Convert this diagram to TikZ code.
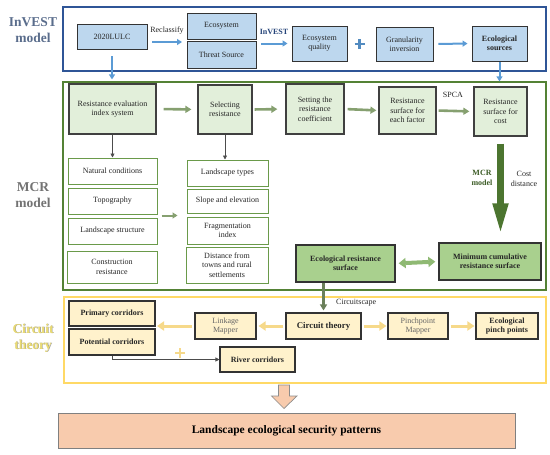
\documentclass[tikz,border=0pt]{standalone}
\usepackage{fontspec}
\setmainfont{Liberation Serif}
\usetikzlibrary{arrows.meta}
\definecolor{invblue}{HTML}{2F5597}
\definecolor{bfill}{HTML}{BDD7EE}
\definecolor{barr}{HTML}{5B9BD5}
\definecolor{gframe}{HTML}{548235}
\definecolor{gfill}{HTML}{E2EFDA}
\definecolor{gdark}{HTML}{A9D08E}
\definecolor{gline}{HTML}{6A9A4A}
\definecolor{garr}{HTML}{86A070}
\definecolor{yframe}{HTML}{FFD966}
\definecolor{yfill}{HTML}{FFF2CC}
\definecolor{yarr}{HTML}{F6D98A}
\definecolor{ofill}{HTML}{F8CBAD}
\definecolor{txt}{HTML}{262626}
\definecolor{sideblue}{HTML}{5A6D8C}
\definecolor{sideyel}{HTML}{EADB72}
\newcommand\fs{\fontsize{8}{9.4}\selectfont}
\begin{document}
\begin{tikzpicture}[x=1pt,y=-1pt,
  box/.style={draw=black!80, line width=0.9pt, align=center, inner sep=1pt, font=\fs, text=txt},
  bluebox/.style={box, fill=bfill},
  gbox/.style={box, fill=gfill, line width=1.2pt, draw=black!75},
  wbox/.style={box, fill=white, draw=gline, line width=1pt},
  dgbox/.style={box, fill=gdark, line width=1.3pt, draw=black!80, font=\fs\bfseries},
  ybox/.style={box, fill=yfill, line width=1.1pt, draw=black!80},
  barrow/.style={draw=barr, line width=2pt, -{Triangle[length=5pt,width=6pt]}},
  garrow/.style={draw=garr, line width=2.6pt, -{Triangle[length=6pt,width=7pt]}},
  thinarrow/.style={draw=black!70, line width=0.7pt, -{Triangle[length=4pt,width=4pt]}},
  yarrow/.style={draw=yarr, line width=3pt, -{Triangle[length=7pt,width=9pt]}},
  sidelabel/.style={align=center, font=\fontsize{13.5}{16}\selectfont\bfseries},
  lbl/.style={font=\fs, text=txt, inner sep=1pt}
]
\useasboundingbox (0,0) rectangle (550,455);

% frames
\draw[invblue, line width=2pt] (63,7) rectangle (546,71);
\draw[gframe, line width=2.5pt] (63,82) rectangle (546,290);
\draw[yframe, line width=2pt] (64,297) rectangle (546,383);

% side labels
\node[sidelabel, text=sideblue] (lab1) at (33,30) {InVEST\\model};
\node[sidelabel, text=black!55] (lab2) at (33,195) {MCR\\model};
\node[sidelabel, text=black!40] at (33.6,338.6) {Circuit\\theory};
\node[sidelabel, text=sideyel] (lab3) at (33,338) {Circuit\\theory};

% InVEST nodes
\node[bluebox, minimum width=70pt, minimum height=25pt] (lulc) at (112,36.5) {2020LULC};
\node[bluebox, minimum width=69pt, minimum height=26pt] (eco) at (221.5,26) {Ecosystem};
\node[bluebox, minimum width=69pt, minimum height=27pt] (threat) at (221.5,54.5) {Threat Source};
\node[bluebox, minimum width=55pt, minimum height=35pt] (eq) at (319.5,43.5) {Ecosystem\\quality};
\node[bluebox, minimum width=57pt, minimum height=34pt] (gran) at (404.5,44) {Granularity\\inversion};
\node[bluebox, minimum width=55pt, minimum height=35pt, font=\fs\bfseries] (src) at (499.5,43.5) {Ecological\\sources};

\coordinate (j1) at (187,42);
\draw[barrow, shorten <=5pt, shorten >=5pt] (lulc.east |- j1) -- (j1);
\node[lbl] (recl) at (167,31) {Reclassify};
\draw[barrow, shorten <=5pt, shorten >=4pt] (threat.east |- eq.west) -- (eq.west);
\node[lbl, font=\fs\bfseries, text=invblue!80!black] (inv) at (274,32) {InVEST};
\coordinate (plus) at (359.5,44);
\draw[barr!90!black, line width=2.4pt] ([xshift=-5pt]plus) -- ([xshift=5pt]plus) ([yshift=-5pt]plus) -- ([yshift=5pt]plus);
\draw[barrow, shorten <=5pt, shorten >=4pt] (gran.east) -- (src.west);

% MCR nodes
\node[gbox, minimum width=87pt, minimum height=50pt] (rei) at (112.5,109) {Resistance evaluation\\index system};
\node[gbox, minimum width=54pt, minimum height=49pt] (sel) at (225,109.5) {Selecting\\resistance};
\node[gbox, minimum width=58pt, minimum height=50pt] (set) at (315,109) {Setting the\\resistance\\coefficient};
\node[gbox, minimum width=57pt, minimum height=47pt] (rsf) at (407.5,110.5) {Resistance\\surface for\\each factor};
\node[gbox, minimum width=53pt, minimum height=49pt] (rsc) at (500.5,111.5) {Resistance\\surface for\\cost};

\draw[barrow, shorten <=7pt, shorten >=4pt] (lulc.south) -- (lulc.south |- rei.north);
\draw[barrow, shorten <=1pt, shorten >=5pt] (src.south) -- (src.south |- rsc.north);

\draw[garrow, shorten <=7pt, shorten >=6pt] (rei.east) -- (sel.west);
\draw[garrow, shorten <=2pt, shorten >=8pt] (sel.east) -- (set.west);
\draw[garrow, shorten <=3pt, shorten >=2pt] (set.east) -- (rsf.west);
\draw[garrow, shorten <=2pt, shorten >=4pt] (rsf.east) -- (rsc.west);
\node[lbl] (spca) at (453,95) {SPCA};

\node[wbox, minimum width=89pt, minimum height=26pt] (nat) at (112.5,171) {Natural conditions};
\node[wbox, minimum width=89pt, minimum height=26pt] (topo) at (112.5,201) {Topography};
\node[wbox, minimum width=89pt, minimum height=26pt] (land) at (112.5,231) {Landscape structure};
\node[wbox, minimum width=90pt, minimum height=32pt] (cons) at (112,267) {Construction\\resistance};

\node[wbox, minimum width=81pt, minimum height=26pt] (ltype) at (227.5,173) {Landscape types};
\node[wbox, minimum width=81pt, minimum height=24pt] (slope) at (227.5,201) {Slope and elevation};
\node[wbox, minimum width=81pt, minimum height=27pt] (frag) at (227.5,230.5) {Fragmentation\\index};
\node[wbox, minimum width=82pt, minimum height=36pt] (dist) at (227,265) {Distance from\\towns and rural\\settlements};

\draw[thinarrow] (rei.south) -- (rei.south |- nat.north);
\draw[thinarrow] (sel.south) -- (sel.south |- ltype.north);
\draw[draw=garr, line width=2pt, -{Triangle[length=5pt,width=6pt]}] ([shift={(4,1)}]topo.south east) -- ([shift={(-9,2)}]slope.south west);

\node[dgbox, minimum width=99pt, minimum height=37pt] (ers) at (345.5,263.5) {Ecological resistance\\surface};
\node[dgbox, minimum width=102pt, minimum height=37pt] (mcs) at (490,261.5) {Minimum cumulative\\resistance surface};

\draw[draw=gframe!90!black, line width=7pt, -{Triangle[length=32pt,width=14pt]}, shorten <=7pt, shorten >=7pt] (rsc.south) -- (rsc.south |- mcs.north);
\node[lbl, font=\fs\bfseries, text=gframe!70!black, align=center] (mcrm) at (482,178) {MCR\\model};
\node[lbl, align=center] (costd) at (524,179) {Cost\\distance};

\draw[draw=gdark!70!gframe, line width=4pt, {Triangle[length=7pt,width=10pt]}-{Triangle[length=7pt,width=10pt]}, shorten <=3pt, shorten >=3pt] (ers.east) -- (mcs.west);

% Circuit nodes
\node[ybox, minimum width=86pt, minimum height=25pt, font=\fs\bfseries] (prim) at (112,313.5) {Primary corridors};
\node[ybox, minimum width=86pt, minimum height=26pt, font=\fs\bfseries] (pot) at (112,342) {Potential corridors};
\node[ybox, minimum width=61pt, minimum height=26pt, text=black!60] (link) at (225.5,326) {Linkage\\Mapper};
\node[ybox, minimum width=75pt, minimum height=26pt, font=\fontsize{8.8}{10}\selectfont\bfseries] (circ) at (323.5,326) {Circuit theory};
\node[ybox, minimum width=60pt, minimum height=26pt, text=black!60] (pinch) at (418,326) {Pinchpoint\\Mapper};
\node[ybox, minimum width=62pt, minimum height=26pt, font=\fs\bfseries] (epp) at (507,326) {Ecological\\pinch points};
\node[ybox, minimum width=75pt, minimum height=25pt, font=\fs\bfseries] (river) at (257.5,359.5) {River corridors};

\draw[draw=garr!80!black, line width=2.4pt, -{Triangle[length=6pt,width=7pt]}, shorten >=2pt] (circ.north |- ers.south) -- (circ.north);
\node[lbl, anchor=west] (cs) at (335,303) {Circuitscape};

\coordinate (pc) at (155,326);
\draw[yarrow, shorten <=2pt, shorten >=2pt] (circ.west) -- (link.east);
\draw[yarrow, shorten <=2pt, shorten >=2pt] (link.west) -- (pc);
\draw[yarrow, shorten <=2pt, shorten >=1pt] (circ.east) -- (pinch.west);
\draw[yarrow, shorten <=2pt, shorten >=1pt] (pinch.east) -- (epp.west);
\coordinate (plus2) at (180,353);
\draw[yarr, line width=2.6pt] ([xshift=-5pt]plus2) -- ([xshift=5pt]plus2) ([yshift=-5pt]plus2) -- ([yshift=5pt]plus2);
\draw[thinarrow] (pot.south) |- (river.west);

% bottom
\node[box, fill=ofill, draw=black!50, line width=1pt, minimum width=457pt, minimum height=35pt, font=\fontsize{11.5}{13}\selectfont\bfseries, text=black] (lesp) at (286.5,430.5) {Landscape ecological security patterns};
\draw[fill=ofill, draw=black!45, line width=0.7pt] (278.5,385) -- (289.5,385) -- (289.5,396) -- (297,396) -- (284,408.5) -- (271.5,396) -- (278.5,396) -- cycle;
\end{tikzpicture}
\end{document}
